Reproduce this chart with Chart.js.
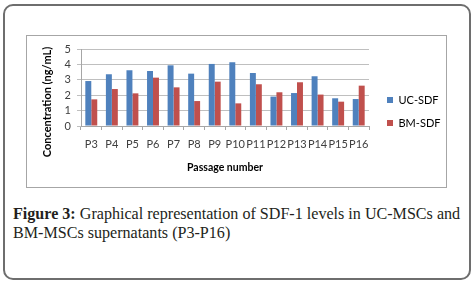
<!DOCTYPE html>
<html>
<head>
<meta charset="utf-8">
<script src="https://cdn.jsdelivr.net/npm/chart.js@4.4.1/dist/chart.umd.min.js"></script>
<style>
  html, body { margin: 0; padding: 0; background: #fff; }
  body { width: 473px; height: 282px; position: relative; overflow: hidden; }
  #frame {
    position: absolute; left: 3px; top: 4px; width: 468px; height: 276px;
    border: 2px solid #6e6e6e; border-radius: 10px; box-sizing: border-box;
  }
  #box {
    position: absolute; left: 26px; top: 35px; width: 421px; height: 153px;
    border: 1px solid #a6a6a6; box-sizing: border-box;
  }
  #sdfChart { display: block; }
  #caption {
    position: absolute; left: 13px; top: 205px; width: 458px;
    font-family: "Liberation Serif", "DejaVu Serif", serif;
    font-size: 16.1px; line-height: 18.5px; color: #231f20;
  }
  #caption b { font-weight: bold; }
</style>
</head>
<body>
<div id="frame"></div>
<div id="box"><canvas id="sdfChart" width="419" height="151"></canvas></div>
<div id="caption"><b>Figure 3:</b> Graphical representation of SDF-1 levels in UC-MSCs and BM-MSCs supernatants (P3-P16)</div>
<script>
// passages and SDF-1 concentration (ng/mL)
const passages = ['P3', 'P4', 'P5', 'P6', 'P7', 'P8', 'P9', 'P10', 'P11', 'P12', 'P13', 'P14', 'P15', 'P16'];
const ucSdf = [2.92, 3.36, 3.62, 3.57, 3.94, 3.40, 4.03, 4.14, 3.44, 1.91, 2.14, 3.23, 1.80, 1.75];
const bmSdf = [1.73, 2.40, 2.12, 3.14, 2.51, 1.62, 2.88, 1.47, 2.71, 2.19, 2.84, 2.04, 1.58, 2.62];
const yTicks = [0, 1, 2, 3, 4, 5];

const font = 'Lato, "Open Sans", sans-serif';

// y title drawn centred like Excel does, legend pinned to the right
const layoutFix = {
    id: 'layoutFix',
    beforeLayout(chart) {
        const lg = chart.legend;
        if (lg && !lg._fixed) {
            const fit = lg.fit;
            lg.fit = function () { fit.call(this); this.width = 77; };
            lg._fixed = true;
        }
    },
    afterLayout(chart) {
        const lg = chart.legend;
        lg.left = 348; lg.right = 425; lg.top = 0; lg.bottom = 151;
    },
    afterDraw(chart) {
        const ctx = chart.ctx;
        ctx.save();
        ctx.translate(20, 66);
        ctx.rotate(-Math.PI / 2);
        ctx.font = 'bold 11px ' + font;
        ctx.fillStyle = '#000';
        ctx.textAlign = 'center';
        ctx.textBaseline = 'middle';
        ctx.fillText('Concentration (ng/mL)', 0, 0);
        ctx.restore();
    }
};

new Chart(document.getElementById('sdfChart'), {
    type: 'bar',
    data: {
        labels: passages,
        datasets: [{
            label: 'UC-SDF',
            data: ucSdf,
            backgroundColor: '#4f81bd',
            categoryPercentage: 0.58,
            barPercentage: 1
        }, {
            label: 'BM-SDF',
            data: bmSdf,
            backgroundColor: '#c0504d',
            categoryPercentage: 0.58,
            barPercentage: 1
        }]
    },
    options: {
        responsive: false,
        animation: false,
        layout: { padding: { top: 13, left: 0, right: 0, bottom: 0 } },
        plugins: {
            tooltip: { enabled: false },
            legend: {
                position: 'right',
                labels: {
                    boxWidth: 6,
                    boxHeight: 6,
                    padding: 12,
                    color: '#000',
                    font: { family: font, size: 11 }
                }
            }
        },
        scales: {
            x: {
                afterFit(scale) { scale.height = 61; },
                grid: {
                    offset: true,
                    drawOnChartArea: false,
                    color: '#a6a6a6',
                    tickLength: 4
                },
                border: { color: '#a6a6a6' },
                ticks: {
                    color: '#404040',
                    padding: 8,
                    maxRotation: 0,
                    autoSkip: false,
                    font: { family: font, size: 11 }
                },
                title: {
                    display: true,
                    text: 'Passage number',
                    color: '#000',
                    padding: { top: 0, bottom: 13 },
                    font: { family: font, size: 10.5, weight: 'bold' }
                }
            },
            y: {
                min: 0,
                max: 5,
                afterFit(scale) { scale.width = 54; },
                afterBuildTicks(scale) { scale.ticks = yTicks.map(v => ({ value: v })); },
                grid: { color: '#bfbfbf', tickLength: 4 },
                border: { color: '#a6a6a6' },
                ticks: {
                    color: '#404040',
                    padding: 6,
                    autoSkip: false,
                    font: { family: font, size: 11 }
                }
            }
        }
    },
    plugins: [layoutFix]
});
</script>
</body>
</html>
